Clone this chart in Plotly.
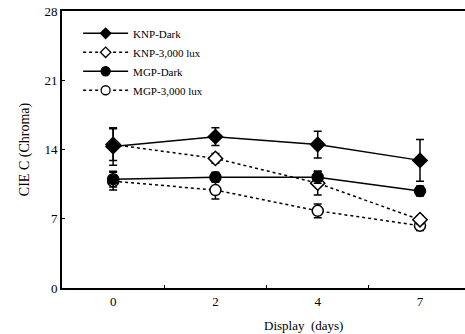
import plotly.graph_objects as go

days = ["0", "2", "4", "7"]

knp_dark = [14.3, 15.3, 14.5, 12.9]
knp_dark_err = [1.9, 0.9, 1.35, 2.1]
knp_light = [14.5, 13.1, 10.6, 6.9]
knp_light_err = [1.6, 0.5, 1.2, 0.4]
mgp_dark = [11.0, 11.2, 11.2, 9.8]
mgp_dark_err = [0.8, 0.5, 0.6, 0.5]
mgp_light = [10.8, 9.9, 7.8, 6.3]
mgp_light_err = [0.9, 0.9, 0.7, 0.5]

y_ticks = [0, 7, 14, 21, 28]

FONT = "Liberation Serif"

series = [
    # name, values, errors, symbol, fill, dash, legend rank
    ("MGP-3,000 lux", mgp_light, mgp_light_err, "circle", "white", "dot", 4),
    ("KNP-3,000 lux", knp_light, knp_light_err, "diamond", "white", "dot", 2),
    ("MGP-Dark", mgp_dark, mgp_dark_err, "circle", "black", "solid", 3),
    ("KNP-Dark", knp_dark, knp_dark_err, "diamond", "black", "solid", 1),
]

fig = go.Figure()
for name, y, err, symbol, fill, dash, rank in series:
    fig.add_trace(go.Scatter(
        x=days, y=y, name=name, mode="lines+markers", showlegend=False,
        line=dict(color="black", width=1.5, dash=dash),
        marker=dict(symbol=symbol, size=11, color=fill,
                    line=dict(color="black", width=1.5)),
        error_y=dict(type="data", array=err, visible=True,
                     color="black", thickness=1.5, width=4),
    ))
# legend-only entries with smaller symbols, as in the reference key
for name, y, err, symbol, fill, dash, rank in series:
    fig.add_trace(go.Scatter(
        x=[None], y=[None], name=name, mode="lines+markers", legendrank=rank,
        line=dict(color="black", width=1.5, dash=dash),
        marker=dict(symbol=symbol, size=8 if symbol == "diamond" else 9,
                    color=fill, line=dict(color="black", width=1.3)),
    ))

fig.update_layout(
    width=465, height=334,
    margin=dict(l=62, r=0, t=11, b=46),
    paper_bgcolor="white", plot_bgcolor="white",
    font=dict(family=FONT, size=13, color="black"),
    showlegend=True,
    legend=dict(
        x=0.04, y=0.972, xanchor="left", yanchor="top",
        bgcolor="rgba(0,0,0,0)", font=dict(family=FONT, size=11),
        tracegroupgap=0, itemwidth=45,
    ),
    xaxis=dict(
        type="category", categoryorder="array", categoryarray=days,
        range=[-0.5, 3.44], showgrid=False, zeroline=False,
        showline=True, linecolor="black", linewidth=2, mirror=True,
        ticks="inside", ticklen=3, tickson="boundaries", tickcolor="black",
        tickfont=dict(size=13),
    ),
    yaxis=dict(
        range=[0, 28], tickvals=y_ticks, showgrid=False, zeroline=False,
        showline=True, linecolor="black", linewidth=2,
        ticks="inside", ticklen=3, tickcolor="black",
        tickfont=dict(size=13),
        title=dict(text="CIE C (Chroma)", font=dict(size=14), standoff=12),
    ),
    annotations=[
        dict(text="Display  (days)", xref="paper", yref="paper",
             x=0.6, y=-0.137, xanchor="center", yanchor="middle",
             showarrow=False, font=dict(family=FONT, size=13)),
    ],
)

fig.write_html("out.html")
